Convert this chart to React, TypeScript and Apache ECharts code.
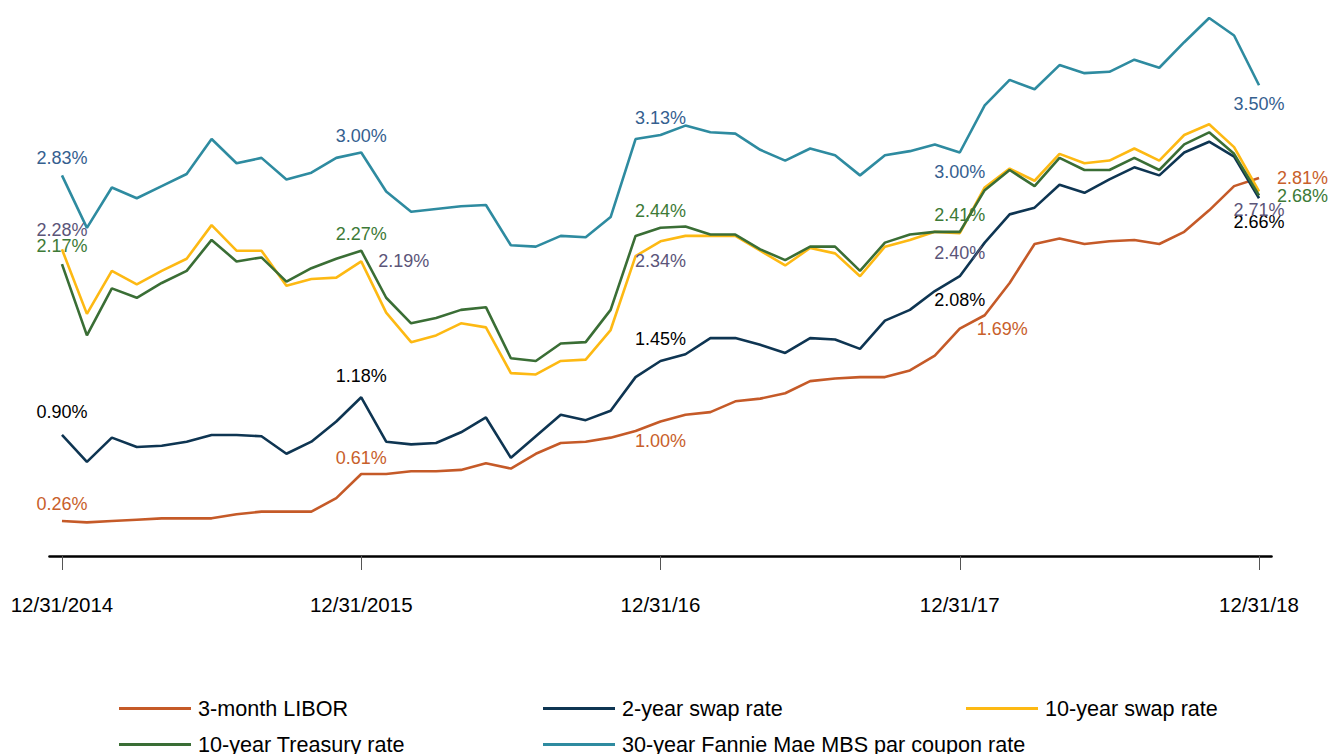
import React, { useEffect, useRef } from "react";
import * as echarts from "echarts";

const categories = [
  "Dec 2014",
  "Jan 2015", "Feb 2015", "Mar 2015", "Apr 2015", "May 2015", "Jun 2015",
  "Jul 2015", "Aug 2015", "Sep 2015", "Oct 2015", "Nov 2015", "Dec 2015",
  "Jan 2016", "Feb 2016", "Mar 2016", "Apr 2016", "May 2016", "Jun 2016",
  "Jul 2016", "Aug 2016", "Sep 2016", "Oct 2016", "Nov 2016", "Dec 2016",
  "Jan 2017", "Feb 2017", "Mar 2017", "Apr 2017", "May 2017", "Jun 2017",
  "Jul 2017", "Aug 2017", "Sep 2017", "Oct 2017", "Nov 2017", "Dec 2017",
  "Jan 2018", "Feb 2018", "Mar 2018", "Apr 2018", "May 2018", "Jun 2018",
  "Jul 2018", "Aug 2018", "Sep 2018", "Oct 2018", "Nov 2018", "Dec 2018",
];

const tickLabels = ["12/31/2014", "12/31/2015", "12/31/16", "12/31/17", "12/31/18"];

const libor = [
  0.26, 0.25, 0.26, 0.27, 0.28, 0.28, 0.28, 0.31, 0.33, 0.33, 0.33, 0.43, 0.61,
  0.61, 0.63, 0.63, 0.64, 0.69, 0.65, 0.76, 0.84, 0.85, 0.88, 0.93, 1.0,
  1.05, 1.07, 1.15, 1.17, 1.21, 1.3, 1.32, 1.33, 1.33, 1.38, 1.49, 1.69,
  1.79, 2.03, 2.32, 2.36, 2.32, 2.34, 2.35, 2.32, 2.41, 2.57, 2.75, 2.81,
];

const swap2y = [
  0.9, 0.7, 0.88, 0.81, 0.82, 0.85, 0.9, 0.9, 0.89, 0.76, 0.85, 1.0, 1.18,
  0.85, 0.83, 0.84, 0.92, 1.03, 0.73, 0.89, 1.05, 1.01, 1.08, 1.33, 1.45,
  1.5, 1.62, 1.62, 1.57, 1.51, 1.62, 1.61, 1.54, 1.75, 1.83, 1.97, 2.08,
  2.33, 2.54, 2.59, 2.76, 2.7, 2.8, 2.89, 2.83, 3.0, 3.08, 2.97, 2.66,
];

const swap10y = [
  2.28, 1.8, 2.12, 2.02, 2.12, 2.21, 2.46, 2.27, 2.27, 2.01, 2.06, 2.07, 2.19,
  1.81, 1.59, 1.64, 1.73, 1.7, 1.36, 1.35, 1.45, 1.46, 1.68, 2.23, 2.34,
  2.38, 2.38, 2.38, 2.27, 2.16, 2.29, 2.25, 2.08, 2.3, 2.35, 2.41, 2.4,
  2.74, 2.88, 2.79, 2.99, 2.92, 2.94, 3.03, 2.94, 3.13, 3.21, 3.04, 2.71,
];

const treasury10y = [
  2.17, 1.64, 1.99, 1.92, 2.03, 2.12, 2.35, 2.19, 2.22, 2.04, 2.14, 2.21, 2.27,
  1.92, 1.73, 1.77, 1.83, 1.85, 1.47, 1.45, 1.58, 1.59, 1.83, 2.38, 2.44,
  2.45, 2.39, 2.39, 2.28, 2.2, 2.3, 2.3, 2.12, 2.33, 2.39, 2.41, 2.41,
  2.72, 2.87, 2.75, 2.96, 2.87, 2.87, 2.96, 2.87, 3.06, 3.15, 2.99, 2.68,
];

const mbs30y = [
  2.83, 2.44, 2.74, 2.66, 2.75, 2.84, 3.1, 2.92, 2.96, 2.8, 2.85, 2.96, 3.0,
  2.71, 2.56, 2.58, 2.6, 2.61, 2.31, 2.3, 2.38, 2.37, 2.52, 3.1, 3.13,
  3.2, 3.15, 3.14, 3.02, 2.94, 3.03, 2.98, 2.83, 2.98, 3.01, 3.06, 3.0,
  3.35, 3.54, 3.47, 3.65, 3.59, 3.6, 3.69, 3.63, 3.82, 4.0, 3.87, 3.5,
];

const seriesNames = [
  "3-month LIBOR",
  "2-year swap rate",
  "10-year swap rate",
  "10-year Treasury rate",
  "30-year Fannie Mae MBS par coupon rate",
];

const labelIndices = [0, 12, 24, 36, 48];

const FONT = "Liberation Sans, Arial, Helvetica, sans-serif";

type Place = [string, number];

export default function App() {
  const ref = useRef<HTMLDivElement>(null);

  useEffect(() => {
    document.body.style.margin = "0";
    if (!ref.current) return;
    const chart = echarts.init(ref.current, undefined, { renderer: "svg" });

    const defs: {
      name: string;
      values: number[];
      color: string;
      labelColor: string;
      places: Place[];
    }[] = [
      {
        name: seriesNames[0],
        values: libor,
        color: "#C55A28",
        labelColor: "#C8602B",
        places: [["top", 8], ["top", 7], ["bottom", 10], ["right", 17], ["right", 18]],
      },
      {
        name: seriesNames[1],
        values: swap2y,
        color: "#0E3552",
        labelColor: "#000000",
        places: [["top", 14], ["top", 12], ["top", 13], ["bottom", 15], ["bottom", 15]],
      },
      {
        name: seriesNames[2],
        values: swap10y,
        color: "#FDB913",
        labelColor: "#5B5579",
        places: [["top", 10], ["right", 17], ["bottom", 11], ["bottom", 11], ["bottom", 9]],
      },
      {
        name: seriesNames[3],
        values: treasury10y,
        color: "#3A6E35",
        labelColor: "#3D7A37",
        places: [["top", 9], ["top", 8], ["top", 8], ["top", 8], ["right", 18]],
      },
      {
        name: seriesNames[4],
        values: mbs30y,
        color: "#2E8BA0",
        labelColor: "#35608F",
        places: [["top", 8], ["top", 7], ["top", 8], ["bottom", 10], ["bottom", 10]],
      },
    ];

    const series = defs.map((d) => ({
      name: d.name,
      type: "line",
      color: d.color,
      symbol: "circle",
      symbolSize: 0.1,
      showSymbol: true,
      showAllSymbol: true,
      clip: false,
      lineStyle: { color: d.color, width: 2.6 },
      itemStyle: { color: d.color },
      emphasis: { disabled: true },
      data: d.values.map((v, i) => {
        const k = labelIndices.indexOf(i);
        if (k < 0) return v;
        return {
          value: v,
          label: {
            show: true,
            position: d.places[k][0],
            distance: d.places[k][1],
            color: d.labelColor,
            fontSize: 18,
            fontFamily: FONT,
            formatter: (p: any) => Number(p.value).toFixed(2) + "%",
          },
        };
      }),
    }));

    const legendPos = [
      [119, 697.5],
      [543, 697.5],
      [966, 697.5],
      [119, 733.5],
      [543, 733.5],
    ];

    const legend = seriesNames.map((n, i) => ({
      data: [n],
      left: legendPos[i][0],
      top: legendPos[i][1],
      icon: "rect",
      itemWidth: 72,
      itemHeight: 3,
      padding: 0,
      selectedMode: false,
      textStyle: {
        fontSize: 21.6,
        color: "#000",
        fontFamily: FONT,
        padding: [0, 0, 0, 2],
      },
    }));

    chart.setOption({
      animation: false,
      backgroundColor: "#ffffff",
      grid: { left: 49.5, right: 59.5, top: 18, height: 538 },
      legend,
      xAxis: {
        type: "category",
        data: categories,
        boundaryGap: true,
        axisLine: { show: true, lineStyle: { color: "#000", width: 2.6 } },
        axisTick: {
          show: true,
          alignWithLabel: true,
          interval: 11,
          length: 14,
          lineStyle: { color: "#555", width: 1 },
        },
        axisLabel: {
          interval: 11,
          margin: 38,
          fontSize: 20.5,
          color: "#000",
          fontFamily: FONT,
          formatter: (_v: string, idx: number) =>
            idx % 12 === 0 ? tickLabels[idx / 12] : "",
        },
        splitLine: { show: false },
      },
      yAxis: {
        type: "value",
        min: 0,
        max: 4,
        show: false,
        splitLine: { show: false },
      },
      series,
    });

    return () => chart.dispose();
  }, []);

  return <div ref={ref} style={{ width: 1331, height: 754 }} />;
}
